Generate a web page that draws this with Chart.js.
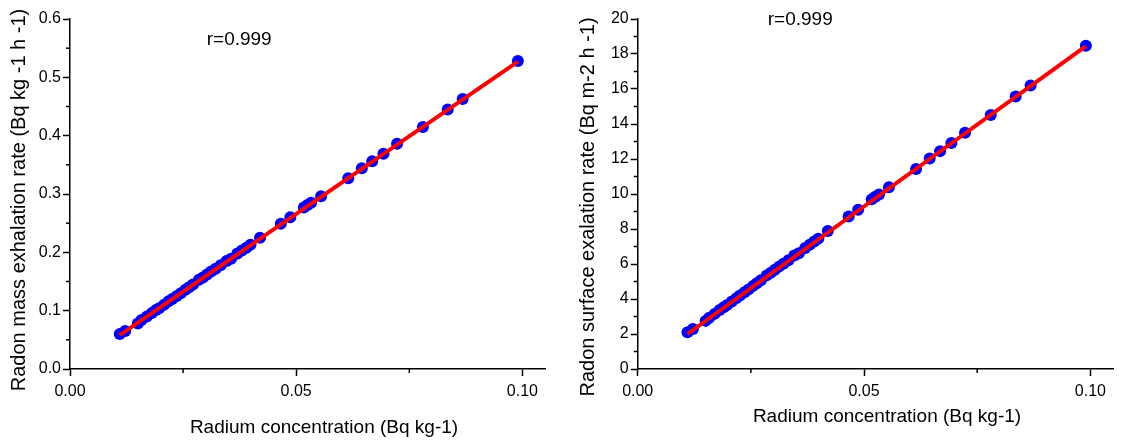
<!DOCTYPE html>
<html>
<head>
<meta charset="utf-8">
<script src="https://cdn.jsdelivr.net/npm/chart.js@4.4.0/dist/chart.umd.min.js"></script>
<style>
  html, body { margin: 0; padding: 0; background: #fff; }
  #wrap { display: flex; width: 1130px; height: 441px; }
  canvas { display: block; }
</style>
</head>
<body>
<div id="wrap">
  <canvas id="massChart" width="565" height="441"></canvas>
  <canvas id="surfaceChart" width="565" height="441"></canvas>
</div>
<script>
// radium concentration of each sample (Bq kg-1)
const radium = [
  0.0110, 0.0122, 0.0150, 0.0158, 0.0170, 0.0181, 0.0190, 0.0197, 0.0208, 0.0218,
  0.0226, 0.0236, 0.0245, 0.0255, 0.0263, 0.0272, 0.0285, 0.0294, 0.0303, 0.0312,
  0.0322, 0.0333, 0.0346, 0.0356, 0.0370, 0.0380, 0.0390, 0.0399, 0.0420, 0.0466,
  0.0487, 0.0517, 0.0525, 0.0533, 0.0555, 0.0615, 0.0645, 0.0668, 0.0693, 0.0723,
  0.0780, 0.0835, 0.0868, 0.0990
];
// radon mass exhalation rate (Bq kg-1 h-1)
const massRate = [
  0.060, 0.065, 0.078, 0.084, 0.090, 0.096, 0.101, 0.104, 0.110, 0.116,
  0.120, 0.125, 0.130, 0.136, 0.140, 0.145, 0.153, 0.157, 0.162, 0.167,
  0.172, 0.178, 0.185, 0.189, 0.198, 0.203, 0.208, 0.213, 0.225, 0.249,
  0.260, 0.277, 0.281, 0.285, 0.296, 0.327, 0.344, 0.356, 0.369, 0.386,
  0.415, 0.445, 0.463, 0.528
];
// radon surface exhalation rate (Bq m-2 h-1)
const surfaceRate = [
  2.10, 2.28, 2.75, 2.93, 3.15, 3.37, 3.53, 3.65, 3.86, 4.05,
  4.20, 4.38, 4.55, 4.75, 4.90, 5.07, 5.35, 5.50, 5.67, 5.85,
  6.02, 6.22, 6.48, 6.62, 6.92, 7.10, 7.28, 7.45, 7.88, 8.72,
  9.10, 9.70, 9.84, 9.97, 10.38, 11.43, 12.03, 12.45, 12.92, 13.50,
  14.52, 15.57, 16.20, 18.47
];
// linear fits (end points)
const fitX = [0.011, 0.099];
const massFit = [0.058, 0.527];
const surfaceFit = [2.0, 18.45];

// ticks
const radiumTicks = [0, 0.025, 0.05, 0.075, 0.10];
const radiumLabels = ['0.00', '', '0.05', '', '0.10'];
const massTicks = [0, 0.05, 0.1, 0.15, 0.2, 0.25, 0.3, 0.35, 0.4, 0.45, 0.5, 0.55, 0.6];
const massLabels = ['0.0', '', '0.1', '', '0.2', '', '0.3', '', '0.4', '', '0.5', '', '0.6'];
const surfaceTicks = [0, 1, 2, 3, 4, 5, 6, 7, 8, 9, 10, 11, 12, 13, 14, 15, 16, 17, 18, 19, 20];
const surfaceLabels = ['0', '', '2', '', '4', '', '6', '', '8', '', '10', '', '12', '', '14', '', '16', '', '18', '', '20'];

const FONT = '"Liberation Sans", Arial, sans-serif';

// minor ticks, the r note and axis titles
const decorations = {
  id: 'decorations',
  afterDraw(chart, args, o) {
    const { ctx, scales: { x, y } } = chart;
    ctx.save();
    ctx.strokeStyle = '#000';
    ctx.lineWidth = 1.5;
    x.ticks.forEach((t, i) => {
      if (o.xLabels[i]) return;
      const px = x.getPixelForValue(t.value);
      ctx.beginPath(); ctx.moveTo(px, x.top); ctx.lineTo(px, x.top + 4); ctx.stroke();
    });
    y.ticks.forEach((t, i) => {
      if (o.yLabels[i]) return;
      const py = y.getPixelForValue(t.value);
      ctx.beginPath(); ctx.moveTo(y.right, py); ctx.lineTo(y.right - 4, py); ctx.stroke();
    });
    ctx.fillStyle = '#000';
    ctx.textAlign = 'center';
    ctx.textBaseline = 'middle';
    ctx.font = '19px ' + FONT;
    ctx.fillText(o.note, x.getPixelForValue(o.noteAt[0]), y.getPixelForValue(o.noteAt[1]));
    ctx.fillText(o.xTitle, o.xTitleAt[0], o.xTitleAt[1]);
    ctx.font = '20px ' + FONT;
    ctx.translate(o.yTitleAt[0], o.yTitleAt[1]);
    ctx.rotate(-Math.PI / 2);
    ctx.fillText(o.yTitle, 0, 0);
    ctx.restore();
  }
};

function makeChart(id, c) {
  const points = radium.map((x, i) => ({ x, y: c.values[i] }));
  const fit = fitX.map((x, i) => ({ x, y: c.fit[i] }));
  return new Chart(document.getElementById(id).getContext('2d'), {
    type: 'scatter',
    data: {
      datasets: [
        { type: 'line', data: fit, borderColor: '#ff0000', borderWidth: 4, pointRadius: 0, order: 0 },
        { data: points, backgroundColor: '#0000ff', borderColor: '#0000ff', borderWidth: 0, pointRadius: 6, order: 1 }
      ]
    },
    options: {
      responsive: false,
      animation: false,
      devicePixelRatio: 1,
      layout: { padding: { top: 19, right: c.padRight, left: 0, bottom: 0 } },
      plugins: {
        legend: { display: false },
        tooltip: { enabled: false },
        decorations: {
          xLabels: radiumLabels, yLabels: c.labels,
          note: 'r=0.999', noteAt: c.noteAt,
          xTitle: 'Radium concentration (Bq kg-1)', xTitleAt: c.xTitleAt,
          yTitle: c.yTitle, yTitleAt: c.yTitleAt
        }
      },
      scales: {
        x: {
          type: 'linear', min: 0, max: 0.105,
          afterBuildTicks: s => { s.ticks = radiumTicks.map(v => ({ value: v })); },
          afterFit: s => { s.height = 72; },
          border: { display: true, color: '#000', width: 1.5 },
          grid: {
            display: true, drawOnChartArea: false, drawTicks: true, tickLength: 7, tickWidth: 1.5,
            tickColor: ctx => radiumLabels[ctx.index] ? '#000' : 'rgba(0,0,0,0)'
          },
          ticks: {
            autoSkip: false, maxRotation: 0, padding: 6, color: '#000',
            font: { family: FONT, size: 16 },
            callback: (v, i) => radiumLabels[i]
          }
        },
        y: {
          type: 'linear', min: 0, max: c.max,
          afterBuildTicks: s => { s.ticks = c.ticks.map(v => ({ value: v })); },
          afterFit: s => { s.width = c.yWidth; },
          border: { display: true, color: '#000', width: 1.5 },
          grid: {
            display: true, drawOnChartArea: false, drawTicks: true, tickLength: 7, tickWidth: 1.5,
            tickColor: ctx => c.labels[ctx.index] ? '#000' : 'rgba(0,0,0,0)'
          },
          ticks: {
            autoSkip: false, padding: 2, color: '#000',
            font: { family: FONT, size: 16 },
            callback: (v, i) => c.labels[i]
          }
        }
      }
    },
    plugins: [decorations]
  });
}

makeChart('massChart', {
  values: massRate, fit: massFit, max: 0.6,
  ticks: massTicks, labels: massLabels,
  yWidth: 70, padRight: 20,
  noteAt: [0.0374, 0.564],
  xTitleAt: [324, 428], yTitleAt: [19, 200],
  yTitle: 'Radon mass exhalation rate (Bq kg -1 h -1)'
});

makeChart('surfaceChart', {
  values: surfaceRate, fit: surfaceFit, max: 20,
  ticks: surfaceTicks, labels: surfaceLabels,
  yWidth: 72.7, padRight: 17,
  noteAt: [0.0359, 19.94],
  xTitleAt: [322, 417], yTitleAt: [23, 207],
  yTitle: 'Radon surface exalation rate (Bq m-2 h -1)'
});
</script>
</body>
</html>
